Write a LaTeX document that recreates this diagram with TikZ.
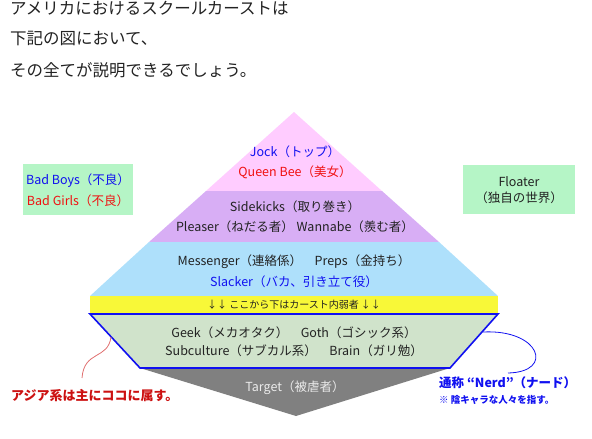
\documentclass[tikz,border=0pt]{standalone}
\usepackage{fontspec}
\setmainfont{Noto Sans CJK JP}
\usetikzlibrary{calc}
\definecolor{ink}{HTML}{222222}
\definecolor{jpblue}{HTML}{1010F0}
\definecolor{jpred}{HTML}{F01010}
\definecolor{notered}{HTML}{CC1111}
\definecolor{tierpink}{HTML}{FFCCFF}
\definecolor{tierviolet}{HTML}{D8AEF5}
\definecolor{tiersky}{HTML}{AEE0FB}
\definecolor{tieryellow}{HTML}{F8F838}
\definecolor{tiersage}{HTML}{D0E3CB}
\definecolor{tiergray}{HTML}{808080}
\definecolor{mint}{HTML}{B5F5C6}
\tikzset{
  tier/.style={draw=none},
  label/.style={font=\fontsize{12.5}{14}\selectfont,text=ink,inner sep=1pt},
  heading/.style={font=\fontsize{16.5}{18}\selectfont,text=ink,anchor=west,inner sep=0pt},
  sidebox/.style={fill=mint,draw=none},
  note/.style={font=\bfseries\fontsize{13}{15}\selectfont,anchor=west,inner sep=0pt},
  connector/.style={line width=0.8pt}
}
\begin{document}
\begin{tikzpicture}[x=1pt,y=-1pt]
\useasboundingbox (0,0) rectangle (592,439);

% heading text
\foreach \y/\name/\txt in {
  8/headA/アメリカにおけるスクールカーストは,
  39/headB/下記の図において、,
  70/headC/その全てが説明できるでしょう。} {
  \node[heading] (\name) at (10,\y) {\txt};
}

% pyramid tiers
\fill[tiergray] (140,368) -- (450,368) -- (296,416) -- cycle;
\fill[tierpink] (294,112) -- (382,191) -- (206,191) -- cycle;
\fill[tierviolet] (206,191) -- (382,191) -- (439,242) -- (149,242) -- cycle;
\fill[tiersky] (149,242) -- (439,242) -- (498,296) -- (90,296) -- cycle;
\fill[tieryellow] (90,296) rectangle (498,313);
\draw[fill=tiersage,draw=jpblue,line width=1.6pt,line join=miter]
  (90,314) -- (498,314) -- (450,368) -- (140,368) -- cycle;

\node[label,text=jpblue] (jock) at (295,152) {Jock（トップ）};
\node[label,text=jpred] (queen) at (295,172) {Queen Bee（美女）};
\node[label] (sidekicks) at (295,207) {Sidekicks（取り巻き）};
\node[label] (pleaser) at (295,227) {Pleaser（ねだる者）\ Wannabe（羨む者）};
\node[label] (messenger) at (294,262) {Messenger（連絡係）\quad Preps（金持ち）};
\node[label,text=jpblue] (slacker) at (294,282) {Slacker（バカ、引き立て役）};
\node[label,font=\fontsize{10}{11}\selectfont] (border) at (294,305)
  {↓↓ ここから下はカースト内弱者 ↓↓};
\node[label] (geek) at (294,333) {Geek（メカオタク）\quad Goth（ゴシック系）};
\node[label] (subculture) at (294,351) {Subculture（サブカル系）\quad Brain（ガリ勉）};
\node[label,text=black!8,font=\fontsize{12.5}{14}\selectfont] (target) at (295,388)
  {Target（被虐者）};

% side boxes
\fill[sidebox] (23,164) rectangle (133,215);
\node[label,text=jpblue] (badboys) at (78,181) {Bad Boys（不良）};
\node[label,text=jpred] (badgirls) at (78,201) {Bad Girls（不良）};
\fill[sidebox] (463,165) rectangle (575,214);
\node[label] (floater) at (519,182) {Floater};
\node[label] (world) at (519,198) {（独自の世界）};

% annotations
\node[note,text=notered] (asia) at (11,396) {アジア系は主にココに属す。};
\node[note,text=jpblue,font=\bfseries\fontsize{12.5}{14}\selectfont] (nerd) at (439,383)
  {通称 “Nerd”（ナード）};
\node[note,text=jpblue,font=\bfseries\fontsize{9.5}{11}\selectfont] (nerdnote)
  at (439,400) {※ 陰キャラな人々を指す。};

\coordinate (asiaTip) at (111,337);
\coordinate (asiaEnd) at (82,378);
\coordinate (nerdTip) at (483,332);
\coordinate (nerdEnd) at (508,373);
\draw[connector,draw=notered!60] (asiaTip) .. controls (108,360) and (84,350) .. (asiaEnd);
\draw[connector,draw=jpblue] (nerdTip) .. controls (540,329) and (555,372) .. (nerdEnd);

\end{tikzpicture}
\end{document}
